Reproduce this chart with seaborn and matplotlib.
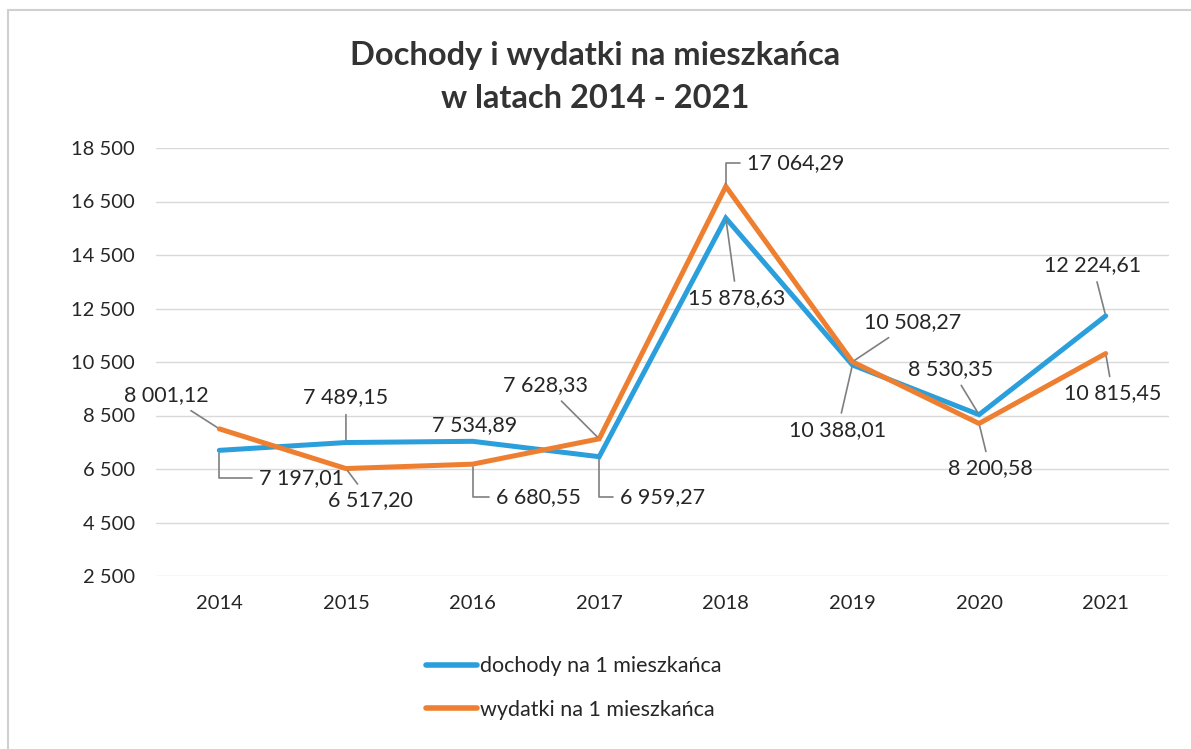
import pandas as pd
import matplotlib.pyplot as plt
import seaborn as sns
from matplotlib.lines import Line2D

# Data
years = ["2014", "2015", "2016", "2017", "2018", "2019", "2020", "2021"]
dochody = [7197.01, 7489.15, 7534.89, 6959.27, 15878.63, 10388.01, 8530.35, 12224.61]
wydatki = [8001.12, 6517.20, 6680.55, 7628.33, 17064.29, 10508.27, 8200.58, 10815.45]
series_names = ["dochody na 1 mieszkańca", "wydatki na 1 mieszkańca"]
y_ticks = [2500, 4500, 6500, 8500, 10500, 12500, 14500, 16500, 18500]

# label offsets in pixels (dx, dy) and leader style for each point
dochody_offsets = [(82, -28, "angle"), (0, 45, "line"), (2, 16, None), (63, -40, "angle"),
                   (11, -80, "line"), (-15, -65, "line"), (-28, 46, "line"), (-13, 51, "line")]
wydatki_offsets = [(-53, 34, "line"), (24, -32, "line"), (66, -33, "angle"), (-54, 54, "line"),
                   (70, 23, "angle"), (60, 40, "line"), (11, -45, "line"), (7, -40, "line")]

BLUE = "#2b9fdb"
ORANGE = "#ef7f30"
TEXT = "#262626"

sns.set_theme(style="white")
plt.rcParams["font.family"] = ["Lato", "DejaVu Sans"]


def fmt(v):
    s = f"{v:,.2f}"
    return s.replace(",", " ").replace(".", ",")


df = pd.DataFrame({
    "rok": years * 2,
    "wartosc": dochody + wydatki,
    "seria": [series_names[0]] * len(years) + [series_names[1]] * len(years),
})

fig = plt.figure(figsize=(11.91, 7.49), dpi=100)
ax = fig.add_axes([156 / 1191, 1 - 576 / 749, (1169 - 156) / 1191, (576 - 148) / 749])

sns.lineplot(data=df, x="rok", y="wartosc", hue="seria", palette=[BLUE, ORANGE],
             linewidth=3.6, ax=ax, legend=False, sort=False)
for ln in ax.lines:
    ln.set_solid_joinstyle("miter")

ax.set_xlim(-0.5, len(years) - 0.5)
ax.set_ylim(2500, 18500)
ax.set_yticks(y_ticks)
ax.set_yticklabels([fmt(t)[:-3] for t in y_ticks])
ax.yaxis.grid(True, color="#d9d9d9", linewidth=1)
ax.set_axisbelow(True)
for sp in ax.spines.values():
    sp.set_visible(False)
ax.tick_params(axis="both", length=0, labelsize=14.5, colors=TEXT)
ax.tick_params(axis="y", pad=15)
ax.tick_params(axis="x", pad=14)
ax.set_xlabel("")
ax.set_ylabel("")


def add_labels(values, offsets):
    for i, (v, (dx, dy, style)) in enumerate(zip(values, offsets)):
        props = None
        if style == "line":
            props = dict(arrowstyle="-", color="#7f7f7f", lw=1.2, shrinkB=2)
        elif style == "angle":
            props = dict(arrowstyle="-", color="#7f7f7f", lw=1.2, shrinkB=2,
                         connectionstyle="angle,angleA=0,angleB=90,rad=0")
        ax.annotate(fmt(v), xy=(i, v), xytext=(dx, dy), textcoords="offset pixels",
                    ha="center", va="center", fontsize=15.5, color=TEXT,
                    bbox=dict(boxstyle="square,pad=0.2", fc="none", ec="none"),
                    arrowprops=props)


add_labels(dochody, dochody_offsets)
add_labels(wydatki, wydatki_offsets)

fig.text(0.5, 1 - 55 / 749, "Dochody i wydatki na mieszkańca", ha="center", va="center",
         fontsize=23.5, fontweight="bold", color="#333333")
fig.text(0.5, 1 - 98 / 749, "w latach 2014 - 2021", ha="center", va="center",
         fontsize=23.5, fontweight="bold", color="#333333")

handles = [Line2D([0], [0], color=BLUE, lw=4, solid_capstyle="round"),
           Line2D([0], [0], color=ORANGE, lw=4, solid_capstyle="round")]
fig.legend(handles, series_names, loc="center left",
           bbox_to_anchor=(415 / 1191, 1 - 688 / 749), frameon=False, fontsize=15.5,
           handlelength=2.4, handletextpad=0.1, labelspacing=1.1, borderpad=0,
           labelcolor=TEXT)

# chart frame (top and left edges visible in the scan)
fig.add_artist(Line2D([8 / 1191, 1], [1 - 10 / 749, 1 - 10 / 749], color="#d0d0d0", lw=1.5))
fig.add_artist(Line2D([8 / 1191, 8 / 1191], [0, 1 - 10 / 749], color="#d0d0d0", lw=1.5))

fig.savefig("out.png", dpi=100)
